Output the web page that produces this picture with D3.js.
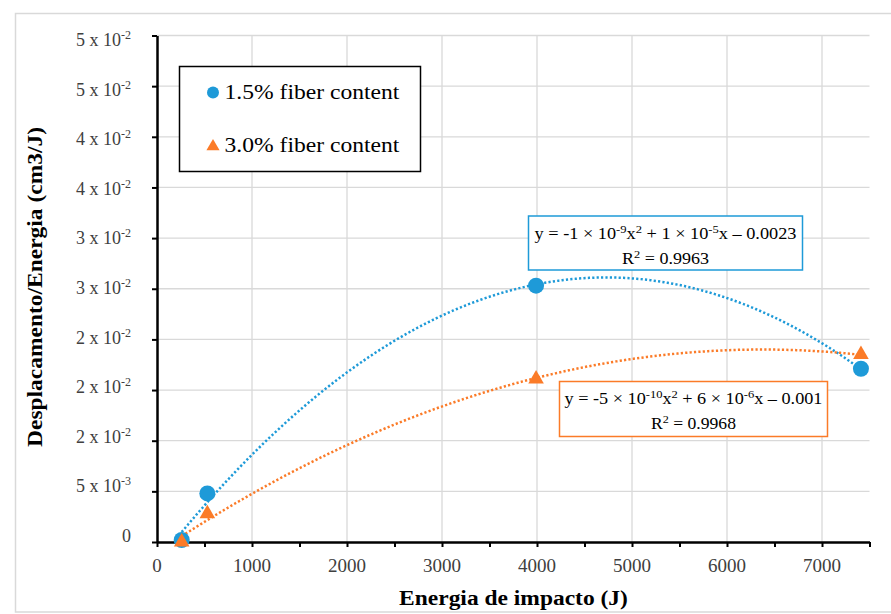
<!DOCTYPE html>
<html>
<head>
<meta charset="utf-8">
<script src="https://cdn.jsdelivr.net/npm/d3@7"></script>
<style>
  html, body { margin: 0; padding: 0; background: #fff; }
  svg { display: block; }
  svg text { font-family: "Liberation Serif", "Times New Roman", serif; }
</style>
</head>
<body>
<svg id="chart" width="891" height="614" font-family="Liberation Serif, Times New Roman, serif"></svg>
<script>
// ---- data ----
const seriesNames = ["1.5% fiber content", "3.0% fiber content"];
const energy15 = [260, 530, 3990, 7410];
const ratio15  = [0.0002, 0.0048, 0.0253, 0.0171];
const energy30 = [260, 530, 3990, 7410];
const ratio30  = [0.0000, 0.0028, 0.0161, 0.0185];
const xTickValues = [0, 1000, 2000, 3000, 4000, 5000, 6000, 7000];
const xMinorTicks = [0, 500, 1000, 1500, 2000, 2500, 3000, 3500, 4000, 4500, 5000, 5500, 6000, 6500, 7000, 7500];
const yTickValues = [0, 0.005, 0.01, 0.015, 0.02, 0.025, 0.03, 0.035, 0.04, 0.045, 0.05];
const yTickBase = ["0", "5 x 10", "2 x 10", "2 x 10", "2 x 10", "3 x 10", "3 x 10", "4 x 10", "4 x 10", "5 x 10", "5 x 10"];
const yTickExp  = ["", "-3", "-2", "-2", "-2", "-2", "-2", "-2", "-2", "-2", "-2"];
const eq15 = [["y = -1 ×  10", ""], ["-9", "sup"], ["x", ""], ["2", "sup"], [" + 1 × 10", ""], ["-5", "sup"], ["x – 0.0023", ""]];
const r2_15 = "0.9963";
const eq30 = [["y = -5 × 10", ""], ["-10", "sup"], ["x", ""], ["2", "sup"], [" + 6 × 10", ""], ["-6", "sup"], ["x – 0.001", ""]];
const r2_30 = "0.9968";
const xTitle = "Energia de impacto (J)";
const yTitle = "Desplacamento/Energia (cm3/J)";

const blue = "#1e9ad8";
const orange = "#fb7b28";
const FONT = "Liberation Serif, Times New Roman, serif";

const svg = d3.select("#chart");
const x = d3.scaleLinear().domain([0, 7500]).range([157, 869.5]);
const y = d3.scaleLinear().domain([0, 0.05]).range([542, 35.5]);
const yLabel = d3.scaleLinear().domain([0, 0.05]).range([542, 46]);

// stretch a text horizontally (along its own direction) to a target width
function fit(sel, target) {
  const w = sel.node().getComputedTextLength();
  if (w > 0) sel.attr("transform", `scale(${target / w},1)`);
  return sel;
}

// outer frame
svg.append("rect").attr("x", 15.5).attr("y", 13.5).attr("width", 900).attr("height", 598.5)
  .attr("fill", "none").attr("stroke", "#d9d9d9").attr("stroke-width", 1.5);

// gridlines
svg.append("g").selectAll("line").data(yTickValues.slice(1)).join("line")
  .attr("x1", x(0)).attr("x2", x(7500)).attr("y1", d => y(d)).attr("y2", d => y(d))
  .attr("stroke", "#d9d9d9").attr("stroke-width", 1.3);
svg.append("g").selectAll("line").data(xTickValues.slice(1)).join("line")
  .attr("x1", d => x(d)).attr("x2", d => x(d)).attr("y1", y(0)).attr("y2", y(0.05))
  .attr("stroke", "#d9d9d9").attr("stroke-width", 1.3);

// axes
const xAxis = svg.append("g").attr("transform", `translate(0,${y(0)})`)
  .call(d3.axisBottom(x).tickValues(xMinorTicks).tickSize(5).tickSizeOuter(0).tickFormat(""));
xAxis.select(".domain").attr("stroke", "#000").attr("stroke-width", 2.5);
xAxis.selectAll(".tick line").attr("stroke", "#000").attr("stroke-width", 2);
svg.append("g").selectAll("text").data(xTickValues).join("text")
  .attr("x", d => x(d)).attr("y", 572).attr("text-anchor", "middle")
  .attr("font-family", FONT).attr("font-size", 19).attr("fill", "#404040").text(d => d);

const yAxis = svg.append("g").attr("transform", `translate(${x(0)},0)`)
  .call(d3.axisLeft(y).tickValues(yTickValues).tickSize(5).tickSizeOuter(0).tickFormat(""));
yAxis.select(".domain").attr("stroke", "#000").attr("stroke-width", 2.5);
yAxis.selectAll(".tick line").attr("stroke", "#000").attr("stroke-width", 2);
const yl = svg.append("g").selectAll("text").data(yTickValues).join("text")
  .attr("x", 131).attr("y", d => yLabel(d)).attr("text-anchor", "end")
  .attr("font-family", FONT).attr("font-size", 18).attr("fill", "#404040");
yl.append("tspan").text((d, i) => yTickBase[i]);
yl.append("tspan").attr("dy", -7).attr("font-size", 12).text((d, i) => yTickExp[i]);

// axis titles
const xt = svg.append("g").attr("transform", "translate(513.5,605)")
  .append("text").attr("text-anchor", "middle").attr("font-family", FONT)
  .attr("font-size", 20).attr("font-weight", "bold").text(xTitle);
fit(xt, 229);
const ytl = svg.append("g").attr("transform", "translate(42,287) rotate(-90)")
  .append("text").attr("text-anchor", "middle").attr("font-family", FONT)
  .attr("font-size", 20).attr("font-weight", "bold").text(yTitle);
fit(ytl, 320);

// quadratic least-squares trendline (as Excel polynomial order 2)
function fitQuad(xs, ys) {
  let S = [0,0,0,0,0], T = [0,0,0];
  xs.forEach((xv, i) => {
    for (let k = 0; k < 5; k++) S[k] += Math.pow(xv, k);
    for (let k = 0; k < 3; k++) T[k] += ys[i] * Math.pow(xv, k);
  });
  const A = [[S[0],S[1],S[2],T[0]],[S[1],S[2],S[3],T[1]],[S[2],S[3],S[4],T[2]]];
  for (let c = 0; c < 3; c++) {
    for (let r = c + 1; r < 3; r++) {
      const f = A[r][c] / A[c][c];
      for (let k = c; k < 4; k++) A[r][k] -= f * A[c][k];
    }
  }
  const b = [0,0,0];
  for (let r = 2; r >= 0; r--) {
    let s = A[r][3];
    for (let k = r + 1; k < 3; k++) s -= A[r][k] * b[k];
    b[r] = s / A[r][r];
  }
  return v => b[0] + b[1] * v + b[2] * v * v;
}
function drawTrend(xs, ys, color) {
  const f = fitQuad(xs, ys);
  const pts = d3.range(0, 201).map(i => {
    const xv = xs[0] + (xs[xs.length - 1] - xs[0]) * i / 200;
    return [xv, f(xv)];
  });
  svg.append("path").datum(pts)
    .attr("d", d3.line().x(d => x(d[0])).y(d => y(d[1])))
    .attr("fill", "none").attr("stroke", color).attr("stroke-width", 2.5)
    .attr("stroke-dasharray", "2.2 2.2");
}
drawTrend(energy15, ratio15, blue);
drawTrend(energy30, ratio30, orange);

// markers
const tri = d3.symbol().type(d3.symbolTriangle).size(105);
svg.append("g").selectAll("circle").data(energy15).join("circle")
  .attr("cx", d => x(d)).attr("cy", (d, i) => y(ratio15[i])).attr("r", 8).attr("fill", blue);
svg.append("g").selectAll("path").data(energy30).join("path")
  .attr("d", tri).attr("transform", (d, i) => `translate(${x(d)},${y(ratio30[i])})`).attr("fill", orange);

// equation boxes
function eqBox(bx, by, bw, bh, color, parts, r2, w1, w2) {
  const g = svg.append("g");
  g.append("rect").attr("x", bx).attr("y", by).attr("width", bw).attr("height", bh)
    .attr("fill", "#fff").attr("stroke", color).attr("stroke-width", 1.5);
  const t = g.append("g").attr("transform", `translate(${bx + bw / 2},${by + 22.5})`)
    .append("text").attr("text-anchor", "middle").attr("font-family", FONT)
    .attr("font-size", 16).attr("fill", "#000");
  let up = false;
  parts.forEach(p => {
    const s = t.append("tspan").text(p[0]);
    if (p[1] === "sup" && !up) { s.attr("dy", -6).attr("font-size", 11); up = true; }
    else if (p[1] !== "sup" && up) { s.attr("dy", 6); up = false; }
  });
  fit(t, w1);
  const t2 = g.append("g").attr("transform", `translate(${bx + bw / 2},${by + 47.5})`)
    .append("text").attr("text-anchor", "middle").attr("font-family", FONT)
    .attr("font-size", 16).attr("fill", "#000");
  t2.append("tspan").text("R");
  t2.append("tspan").attr("dy", -6).attr("font-size", 11).text("2");
  t2.append("tspan").attr("dy", 6).text(" = " + r2);
  fit(t2, w2);
}
eqBox(528.5, 216, 274, 54, blue, eq15, r2_15, 262, 87);
eqBox(559.5, 381.5, 268, 55, orange, eq30, r2_30, 258, 85);

// legend
const lg = svg.append("g");
lg.append("rect").attr("x", 179.5).attr("y", 66.5).attr("width", 241).attr("height", 105)
  .attr("fill", "#fff").attr("stroke", "#000").attr("stroke-width", 1.5);
lg.append("circle").attr("cx", 213).attr("cy", 92.5).attr("r", 6).attr("fill", blue);
lg.append("path").attr("d", d3.symbol().type(d3.symbolTriangle).size(75)).attr("transform", "translate(213,146.5)").attr("fill", orange);
seriesNames.forEach((nm, i) => {
  const t = lg.append("g").attr("transform", `translate(224.5,${99 + i * 53})`)
    .append("text").attr("font-family", FONT).attr("font-size", 21).attr("fill", "#000").text(nm);
  fit(t, 175);
});
</script>
</body>
</html>
